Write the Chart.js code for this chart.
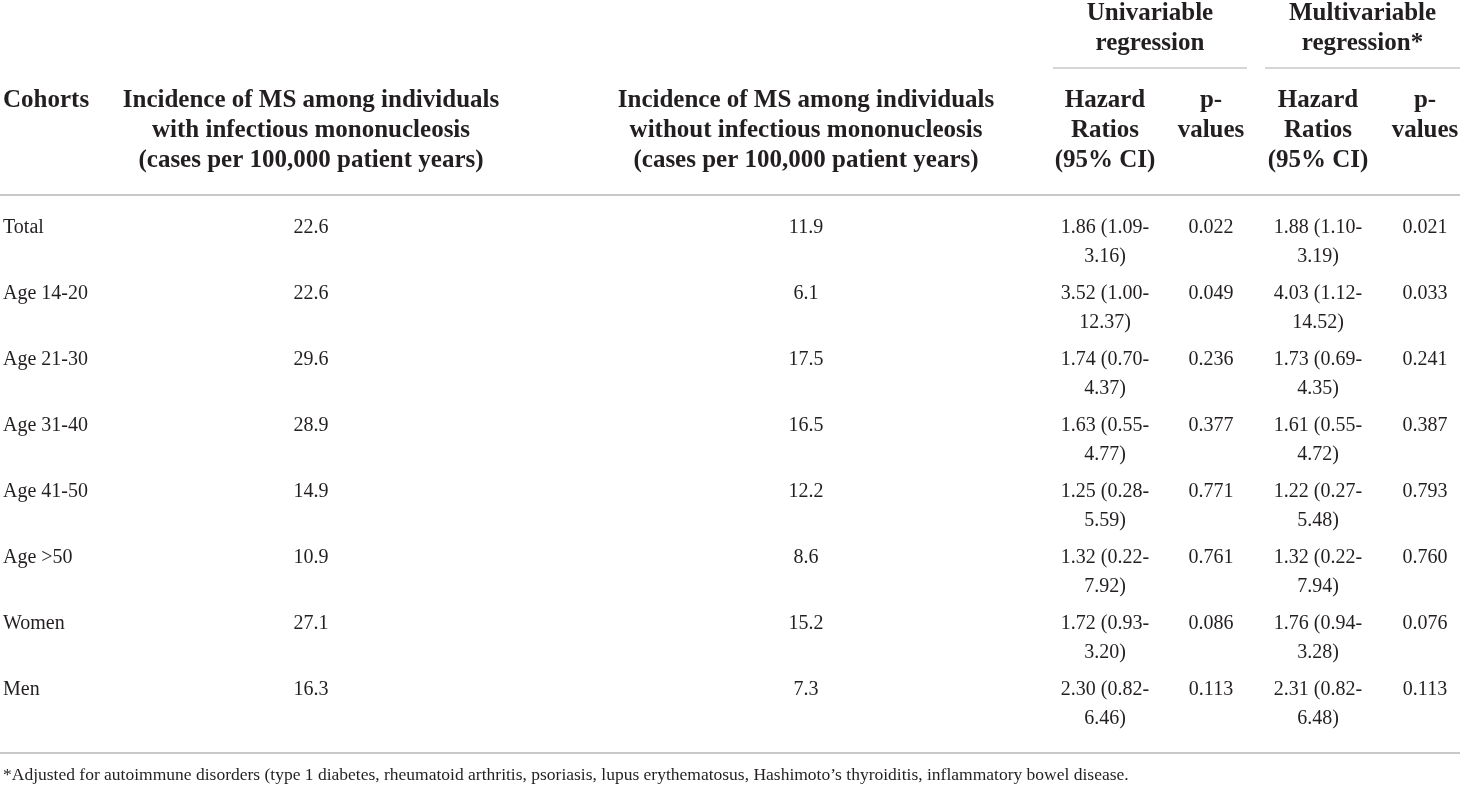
<!DOCTYPE html>
<html>
<head>
<meta charset="utf-8">
<script src="https://cdn.jsdelivr.net/npm/chart.js@4.4.1/dist/chart.umd.min.js"></script>
<style>
  html, body { margin: 0; padding: 0; background: #fff; }
  #wrap { width: 1460px; height: 787px; position: relative; }
</style>
</head>
<body>
<div id="wrap"><canvas id="myChart"></canvas></div>
<script>
// table data
const cohorts = ['Total', 'Age 14-20', 'Age 21-30', 'Age 31-40', 'Age 41-50', 'Age >50', 'Women', 'Men']
const incidenceWith = ['22.6', '22.6', '29.6', '28.9', '14.9', '10.9', '27.1', '16.3']
const incidenceWithout = ['11.9', '6.1', '17.5', '16.5', '12.2', '8.6', '15.2', '7.3']
const uniHR = ['1.86 (1.09-3.16)', '3.52 (1.00-12.37)', '1.74 (0.70-4.37)', '1.63 (0.55-4.77)',
  '1.25 (0.28-5.59)', '1.32 (0.22-7.92)', '1.72 (0.93-3.20)', '2.30 (0.82-6.46)']
const uniP = ['0.022', '0.049', '0.236', '0.377', '0.771', '0.761', '0.086', '0.113']
const multiHR = ['1.88 (1.10-3.19)', '4.03 (1.12-14.52)', '1.73 (0.69-4.35)', '1.61 (0.55-4.72)',
  '1.22 (0.27-5.48)', '1.32 (0.22-7.94)', '1.76 (0.94-3.28)', '2.31 (0.82-6.48)']
const multiP = ['0.021', '0.033', '0.241', '0.387', '0.793', '0.760', '0.076', '0.113']

const columnHeaders = [
  ['Cohorts'],
  ['Incidence of MS among individuals', 'with infectious mononucleosis', '(cases per 100,000 patient years)'],
  ['Incidence of MS among individuals', 'without infectious mononucleosis', '(cases per 100,000 patient years)'],
  ['Hazard', 'Ratios', '(95% CI)'],
  ['p-', 'values'],
  ['Hazard', 'Ratios', '(95% CI)'],
  ['p-', 'values']
]
const groupHeaders = [['Univariable', 'regression'], ['Multivariable', 'regression*']]
const footnote = '*Adjusted for autoimmune disorders (type 1 diabetes, rheumatoid arthritis, psoriasis, lupus erythematosus, Hashimoto\u2019s thyroiditis, inflammatory bowel disease.'

// layout (pixels along the x scale)
const colX = [3, 311, 806, 1105, 1211, 1318, 1425]
const groupSpan = [[1053, 1247], [1265, 1460]]

const TEXT = '#231f20'
const RULE = '#c9c9c9'
const SERIF = '"Liberation Serif", "Times New Roman", serif'

const columns = [cohorts, incidenceWith, incidenceWithout, uniHR, uniP, multiHR, multiP]

// split "1.86 (1.09-3.16)" into two lines like the original wrapping
const wrapCell = (s) => {
  const i = s.lastIndexOf('-')
  if (s.indexOf('(') < 0 || i < 0) return [s]
  return [s.slice(0, i + 1), s.slice(i + 1)]
}

const cellText = {
  id: 'cellText',
  afterDatasetsDraw(chart) {
    const ctx = chart.ctx
    ctx.save()
    ctx.fillStyle = TEXT
    ctx.font = '20px ' + SERIF
    ctx.textBaseline = 'middle'
    chart.data.datasets.forEach((ds, di) => {
      const meta = chart.getDatasetMeta(di)
      ctx.textAlign = di === 0 ? 'left' : 'center'
      meta.data.forEach((pt, i) => {
        const lines = wrapCell(ds.texts[i])
        lines.forEach((ln, k) => ctx.fillText(ln, pt.x, pt.y + 1 + k * 29))
      })
    })
    ctx.restore()
  }
}

const headerAndRules = {
  id: 'headerAndRules',
  afterDraw(chart) {
    const ctx = chart.ctx
    const xs = chart.scales.x
    const area = chart.chartArea
    ctx.save()
    ctx.fillStyle = TEXT
    ctx.textBaseline = 'middle'
    ctx.font = 'bold 25px ' + SERIF

    // group headers
    groupHeaders.forEach((g, gi) => {
      const x0 = xs.getPixelForValue(groupSpan[gi][0])
      const x1 = xs.getPixelForValue(groupSpan[gi][1])
      ctx.textAlign = 'center'
      g.forEach((ln, k) => ctx.fillText(ln, (x0 + x1) / 2, 14 + k * 30))
      ctx.strokeStyle = RULE
      ctx.lineWidth = 1.5
      ctx.beginPath()
      ctx.moveTo(x0, 68)
      ctx.lineTo(x1, 68)
      ctx.stroke()
    })

    // column headers
    columnHeaders.forEach((h, ci) => {
      ctx.textAlign = ci === 0 ? 'left' : 'center'
      const x = xs.getPixelForValue(colX[ci])
      h.forEach((ln, k) => ctx.fillText(ln, x, 101 + k * 30))
    })

    // rules
    ctx.strokeStyle = RULE
    ctx.lineWidth = 2
    ctx.beginPath()
    ctx.moveTo(0, area.top + 1)
    ctx.lineTo(chart.width, area.top + 1)
    ctx.moveTo(0, 753)
    ctx.lineTo(chart.width, 753)
    ctx.stroke()

    // footnote
    ctx.font = '17.5px ' + SERIF
    ctx.textAlign = 'left'
    ctx.fillText(footnote, 3, 775)
    ctx.restore()
  }
}

const datasets = columns.map((col, ci) => ({
  label: 'col' + ci,
  texts: col,
  data: cohorts.map((c) => ({ x: colX[ci], y: c })),
  pointRadius: 0,
  pointHoverRadius: 0,
  showLine: false
}))

const config = {
  type: 'scatter',
  data: { datasets: datasets },
  options: {
    responsive: true,
    maintainAspectRatio: false,
    animation: false,
    events: [],
    layout: { padding: { top: 194, bottom: 65, left: 0, right: 0 } },
    plugins: { legend: { display: false }, tooltip: { enabled: false } },
    scales: {
      x: { type: 'linear', min: 0, max: 1460, display: false },
      y: { type: 'category', labels: cohorts, offset: true, display: false }
    }
  },
  plugins: [cellText, headerAndRules]
}

const myChart = new Chart(document.getElementById('myChart'), config)
</script>
</body>
</html>
